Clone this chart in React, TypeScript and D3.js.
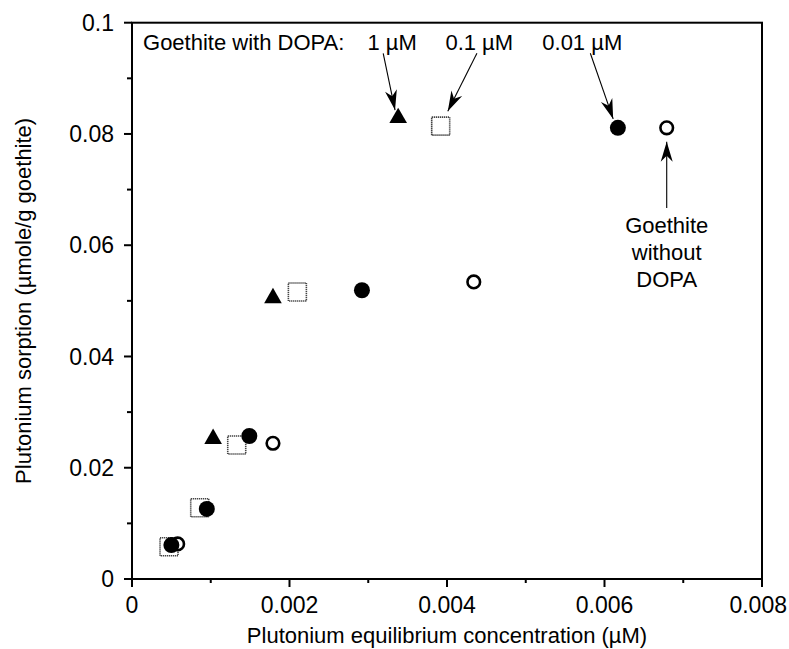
import React from "react";
import * as d3 from "d3";

// ---- data ----
const triX = [0.00103, 0.00179, 0.00338];
const triY = [0.0252, 0.0505, 0.0829];
const sqX = [0.00047, 0.00086, 0.00133, 0.0021, 0.00392];
const sqY = [0.0058, 0.0128, 0.0241, 0.0516, 0.0814];
const fcX = [0.0005, 0.00095, 0.00149, 0.00292, 0.00617];
const fcY = [0.0061, 0.0126, 0.0257, 0.0519, 0.0811];
const ocX = [0.00058, 0.00179, 0.00434, 0.00679];
const ocY = [0.0063, 0.0244, 0.0534, 0.0811];

const xTicks = [0, 0.002, 0.004, 0.006, 0.008];
const xTickLabels = ["0", "0.002", "0.004", "0.006", "0.008"];
const xMinor = [0.001, 0.003, 0.005, 0.007];
const yTicks = [0, 0.02, 0.04, 0.06, 0.08, 0.1];
const yTickLabels = ["0", "0.02", "0.04", "0.06", "0.08", "0.1"];
const yMinor = [0.01, 0.03, 0.05, 0.07, 0.09];

const xTitle = "Plutonium equilibrium concentration (\u00b5M)";
const yTitle = "Plutonium sorption (\u00b5mole/g goethite)";

// annotation labels (data-unit anchors)
const labelTexts = ["Goethite with DOPA:", "1 \u00b5M", "0.1 \u00b5M", "0.01 \u00b5M"];
const labelX = [0.00014, 0.00299, 0.00398, 0.00521];
const labelY = [0.0951, 0.0951, 0.0951, 0.0951];
const noteLines = ["Goethite", "without", "DOPA"];
const noteX = 0.00679;
const noteY = [0.0622, 0.0573, 0.0525];

// annotation arrows in data units (from -> tip)
const arrowFromX = [0.00319, 0.00438, 0.00582, 0.00679];
const arrowFromY = [0.0945, 0.0945, 0.0945, 0.0667];
const arrowToX = [0.00334, 0.00401, 0.00611, 0.00679];
const arrowToY = [0.0843, 0.0841, 0.0827, 0.0786];

const W = 789;
const H = 649;
const FONT = "'Liberation Sans', Arial, Helvetica, sans-serif";

export default function App() {
  const x = d3.scaleLinear().domain([0, 0.008]).range([132, 762]);
  const y = d3.scaleLinear().domain([0, 0.1]).range([579, 22.7]);

  const tri = d3.symbol().type(d3.symbolTriangle).size(135)();
  const fsTick = 23;
  const fs = 22;

  const arrowHead = (x1: number, y1: number, x2: number, y2: number) => {
    const ang = Math.atan2(y2 - y1, x2 - x1);
    const L = 20, Wd = 6, notch = 14;
    const c = Math.cos(ang), s = Math.sin(ang);
    const pts = [
      [x2, y2],
      [x2 - L * c + Wd * s, y2 - L * s - Wd * c],
      [x2 - notch * c, y2 - notch * s],
      [x2 - L * c - Wd * s, y2 - L * s + Wd * c],
    ];
    return "M" + pts.map((p) => p.join(",")).join("L") + "Z";
  };

  const lastTick = xTicks.length - 1;

  return (
    <svg width={W} height={H} style={{ position: "absolute", left: 0, top: 0, background: "#fff" }} fontFamily={FONT}>
      <rect x={0} y={0} width={W} height={H} fill="#fff" />
      {/* frame */}
      <rect x={x(0)} y={y(0.1)} width={x(0.008) - x(0)} height={y(0) - y(0.1)} fill="none" stroke="#000" strokeWidth={2} />
      {/* x ticks */}
      {xTicks.map((t, i) => (
        <g key={"xt" + i}>
          <line x1={x(t)} x2={x(t)} y1={y(0)} y2={y(0) + 8} stroke="#000" strokeWidth={2} />
          <text
            x={i === lastTick ? W - 2 : x(t)}
            y={613}
            textAnchor={i === lastTick ? "end" : "middle"}
            fontSize={fsTick}
          >
            {xTickLabels[i]}
          </text>
        </g>
      ))}
      {xMinor.map((t, i) => (
        <line key={"xm" + i} x1={x(t)} x2={x(t)} y1={y(0)} y2={y(0) + 4} stroke="#000" strokeWidth={2} />
      ))}
      {yTicks.map((t, i) => (
        <g key={"yt" + i}>
          <line x1={x(0) - 8} x2={x(0)} y1={y(t)} y2={y(t)} stroke="#000" strokeWidth={2} />
          <text x={114} y={y(t)} dy="0.35em" textAnchor="end" fontSize={fsTick}>{yTickLabels[i]}</text>
        </g>
      ))}
      {yMinor.map((t, i) => (
        <line key={"ym" + i} x1={x(0) - 5} x2={x(0)} y1={y(t)} y2={y(t)} stroke="#000" strokeWidth={2} />
      ))}
      {/* titles */}
      <text x={(x(0) + x(0.008)) / 2} y={643} textAnchor="middle" fontSize={fs}>{xTitle}</text>
      <text transform={`translate(31,${(y(0) + y(0.1)) / 2}) rotate(-90)`} textAnchor="middle" fontSize={fs}>{yTitle}</text>

      {/* squares */}
      {sqX.map((v, i) => (
        <rect key={"sq" + i} x={x(v) - 9} y={y(sqY[i]) - 9} width={18} height={18} fill="#fff" stroke="#444" strokeWidth={1.6} strokeDasharray="1.3 0.7" />
      ))}
      {/* open circles */}
      {ocX.map((v, i) => (
        <circle key={"oc" + i} cx={x(v)} cy={y(ocY[i])} r={6.3} fill="#fff" stroke="#000" strokeWidth={2.6} />
      ))}
      {/* triangles */}
      {triX.map((v, i) => (
        <path key={"tr" + i} d={tri} transform={`translate(${x(v)},${y(triY[i])})`} fill="#000" />
      ))}
      {/* filled circles */}
      {fcX.map((v, i) => (
        <circle key={"fc" + i} cx={x(v)} cy={y(fcY[i])} r={8} fill="#000" />
      ))}

      {/* annotations */}
      {labelTexts.map((t, i) => (
        <text key={"lb" + i} x={x(labelX[i])} y={y(labelY[i])} fontSize={fs}>{t}</text>
      ))}
      {noteLines.map((t, i) => (
        <text key={"nl" + i} x={x(noteX)} y={y(noteY[i])} textAnchor="middle" fontSize={fs}>{t}</text>
      ))}
      {arrowFromX.map((v, i) => {
        const x1 = x(v), y1 = y(arrowFromY[i]), x2 = x(arrowToX[i]), y2 = y(arrowToY[i]);
        return (
          <g key={"ar" + i}>
            <line x1={x1} y1={y1} x2={x2} y2={y2} stroke="#000" strokeWidth={1.1} />
            <path d={arrowHead(x1, y1, x2, y2)} fill="#000" />
          </g>
        );
      })}
    </svg>
  );
}
